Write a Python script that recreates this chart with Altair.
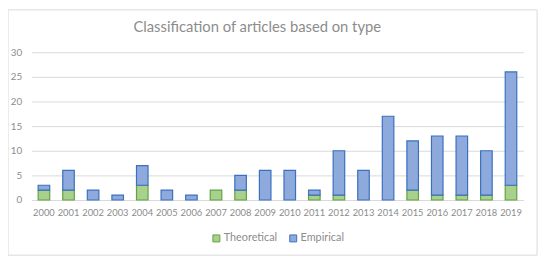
import altair as alt
import pandas as pd

years = [str(y) for y in range(2000, 2020)]
theoretical = [2, 2, 0, 0, 3, 0, 0, 2, 2, 0, 0, 1, 1, 0, 0, 2, 1, 1, 1, 3]
empirical = [1, 4, 2, 1, 4, 2, 1, 0, 3, 6, 6, 1, 9, 6, 17, 10, 12, 12, 9, 23]
series = ["Theoretical", "Empirical"]
fill_colors = ["#A9D18E", "#8EA9DB"]
stroke_colors = ["#5FA23F", "#3A70BF"]
title_text = "Classification of articles based on type"

rows = []
for i, y in enumerate(years):
    rows.append({"year": y, "series": series[0], "value": theoretical[i], "ord": 0})
    rows.append({"year": y, "series": series[1], "value": empirical[i], "ord": 1})
df = pd.DataFrame(rows)

text_color = "#8C8C8C"
font = "Lato"

bars = alt.Chart(df).transform_filter("datum.value > 0").mark_bar(strokeWidth=1.2).encode(
    x=alt.X("year:N", sort=years, title=None,
            scale=alt.Scale(paddingInner=0.53, paddingOuter=0.265),
            axis=alt.Axis(labelAngle=0, ticks=False, domain=False, labelPadding=8,
                          labelFontSize=9.5, labelColor=text_color, labelFont=font)),
    y=alt.Y("value:Q", stack="zero", title=None,
            scale=alt.Scale(domain=[0, 30]),
            axis=alt.Axis(values=[0, 5, 10, 15, 20, 25, 30], ticks=False, domain=False,
                          labelPadding=10, labelFontSize=10, labelColor=text_color,
                          labelFont=font, gridColor="#D9D9D9", gridWidth=1)),
    fill=alt.Fill("series:N", scale=alt.Scale(domain=series, range=fill_colors),
                  legend=alt.Legend(title=None, orient="none", direction="horizontal",
                                    legendX=182, legendY=183,
                                    symbolType="square", symbolSize=50, symbolStrokeWidth=1,
                                    labelFontSize=11, labelColor=text_color, labelFont=font,
                                    columnPadding=9, labelOffset=2)),
    stroke=alt.Stroke("series:N", scale=alt.Scale(domain=series, range=stroke_colors),
                      legend=alt.Legend(title=None, orient="none", direction="horizontal",
                                        legendX=182, legendY=183, symbolType="square")),
    order=alt.Order("ord:Q"),
)

frame = alt.Chart(pd.DataFrame({"a": [0]})).mark_rect(
    fill="transparent", stroke="#D9D9D9", strokeWidth=1
).encode(
    x=alt.value(-24), x2=alt.value(513), y=alt.value(-43), y2=alt.value(206)
)

title = alt.Chart(pd.DataFrame({"t": [title_text]})).mark_text(
    fontSize=15, font=font, color=text_color, align="center", baseline="middle"
).encode(
    text="t:N", x=alt.value(229), y=alt.value(-26)
)

chart = alt.layer(frame, title, bars).properties(
    width=499,
    height=150,
    padding={"left": 24, "top": 43, "right": 19, "bottom": 60},
    autosize=alt.AutoSizeParams(type="none"),
).configure_view(stroke=None)

chart.save("out.html", embed_options={"renderer": "svg", "actions": False})
